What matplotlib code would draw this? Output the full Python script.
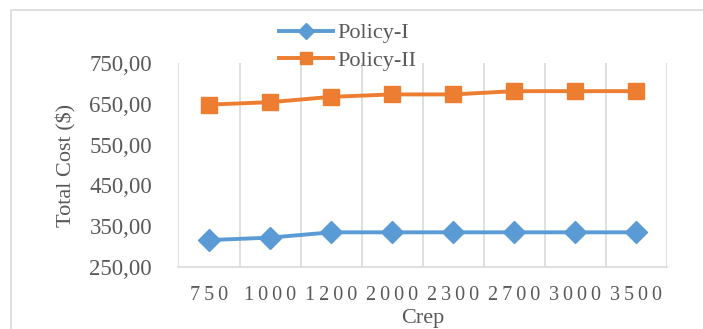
import matplotlib.pyplot as plt
from matplotlib.patches import Rectangle
from matplotlib.ticker import FixedLocator, FuncFormatter

# Crep levels and total cost for each policy
crep = ['750', '1000', '1200', '2000', '2300', '2700', '3000', '3500']
policy_1 = [316, 322, 335, 335, 335, 335, 335, 335]
policy_2 = [648, 654, 667, 673, 673, 681, 681, 681]

blue = '#5B9BD5'
orange = '#ED7D31'
grid_col = '#D9D9D9'
text_col = '#595959'

plt.rcParams['font.family'] = ['Liberation Serif', 'DejaVu Serif']

fig = plt.figure(figsize=(7.03, 3.29), dpi=100)
ax = fig.add_axes([178.5 / 703, 1 - 267 / 329, (667 - 178.5) / 703, (267 - 63) / 329])

# chart area border
fig.patches.append(Rectangle((11 / 703, -0.1), 1.2, 1.1 - 10 / 329,
                             transform=fig.transFigure, fill=False,
                             edgecolor=grid_col, lw=1.2))

x = list(range(len(crep)))
ax.plot(x, policy_1, color=blue, lw=2.8, marker='D', markersize=11,
        label='Policy-I', zorder=3)
ax.plot(x, policy_2, color=orange, lw=2.8, marker='s', markersize=12,
        label='Policy-II', zorder=3)

ax.set_xlim(-0.5, len(crep) - 0.5)
ax.set_ylim(250, 750)
ax.set_yticks(range(250, 751, 100))
ax.yaxis.set_major_formatter(FuncFormatter(lambda v, p: f'{v:.2f}'.replace('.', ',')))
ax.set_xticks(x)
# spaced-out digits on the category axis
ax.set_xticklabels(['\u2009'.join(c) for c in crep])
ax.xaxis.set_minor_locator(FixedLocator([i - 0.5 for i in range(len(crep) + 1)]))
ax.grid(which='minor', axis='x', color=grid_col, lw=1.2)
ax.grid(which='major', visible=False)

for s in ['top', 'left', 'right']:
    ax.spines[s].set_visible(False)
ax.spines['bottom'].set_color(grid_col)
ax.spines['bottom'].set_linewidth(1.2)

ax.tick_params(axis='y', length=0, pad=19, labelsize=16.5, labelcolor=text_col)
ax.tick_params(axis='x', which='both', length=0, pad=14, labelsize=14.5,
               labelcolor=text_col)

ax.set_ylabel('Total Cost ($)', fontsize=16, color=text_col, labelpad=9)
ax.set_xlabel('Crep', fontsize=16, color=text_col, labelpad=2.5)

leg = ax.legend(loc='lower left', bbox_to_anchor=(0.182, 0.905),
                frameon=False, fontsize=16, handlelength=2.45, handletextpad=0.22,
                labelspacing=0.33, borderpad=0, markerscale=0.75)
for t in leg.get_texts():
    t.set_color(text_col)

fig.savefig('out.png', dpi=100)
